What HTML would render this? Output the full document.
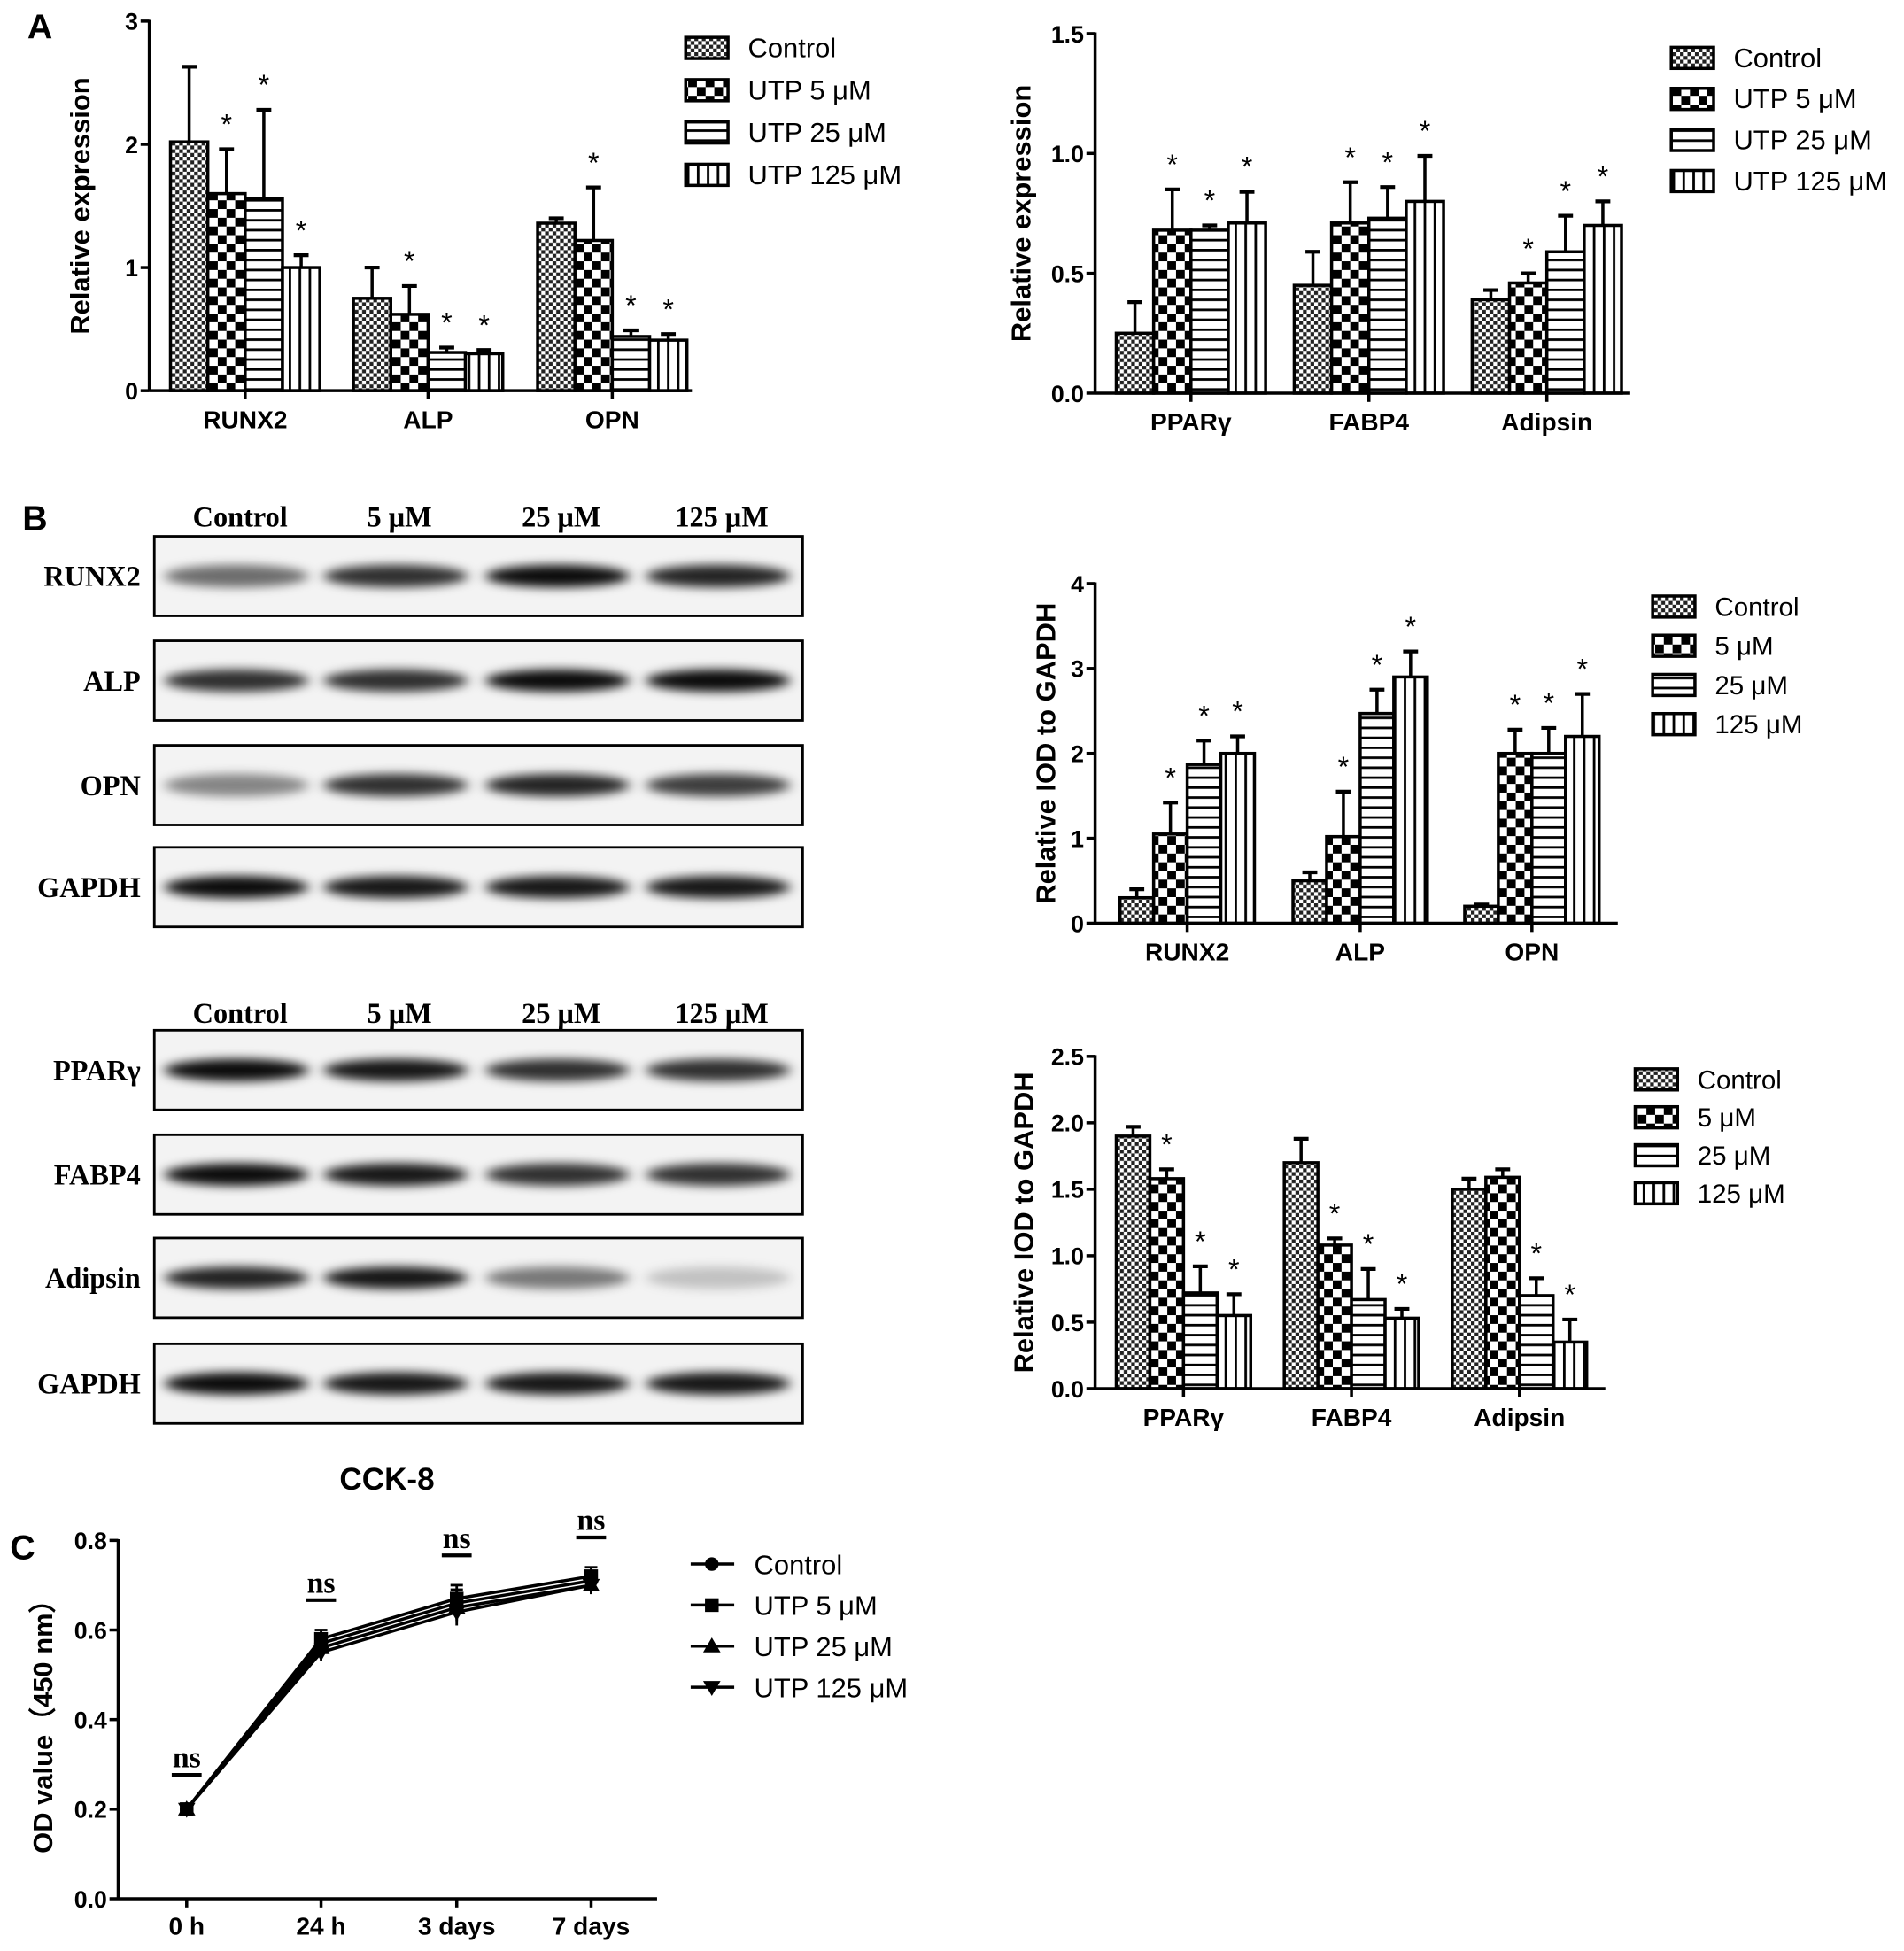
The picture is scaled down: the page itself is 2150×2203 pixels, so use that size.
<!DOCTYPE html>
<html><head><meta charset="utf-8"><style>
html,body{margin:0;padding:0;background:#fff}
svg{display:block}
text{font-family:"Liberation Sans",sans-serif}
.serif{font-family:"Liberation Serif",serif;font-weight:bold}
</style></head><body>
<svg id="fig" xmlns="http://www.w3.org/2000/svg" width="2150" height="2203" viewBox="0 0 1530 1568" preserveAspectRatio="none">
<defs>
<pattern id="p0" width="6" height="6" patternUnits="userSpaceOnUse"><rect width="6" height="6" fill="#fff"/><rect width="3" height="3" fill="#222"/><rect x="3" y="3" width="3" height="3" fill="#222"/></pattern>
<pattern id="p1" width="14" height="14" patternUnits="userSpaceOnUse"><rect width="14" height="14" fill="#fff"/><rect width="7" height="7" fill="#000"/><rect x="7" y="7" width="7" height="7" fill="#000"/></pattern>
<pattern id="p2" width="8" height="8" patternUnits="userSpaceOnUse"><rect width="8" height="8" fill="#fff"/><rect y="0" width="8" height="2" fill="#000"/></pattern>
<pattern id="p3" width="8" height="8" patternUnits="userSpaceOnUse"><rect width="8" height="8" fill="#fff"/><rect x="0" width="2" height="8" fill="#000"/></pattern>
<filter id="blur" x="-20%" y="-100%" width="140%" height="300%"><feGaussianBlur stdDeviation="5 4"/></filter>
</defs>
<text x="22" y="31" font-size="28" font-weight="bold">A</text>
<text x="18" y="426" font-size="28" font-weight="bold">B</text>
<text x="8" y="1253" font-size="28" font-weight="bold">C</text>
<g id="charts"></g>
</svg>
<script>
// ---- Chart A1 data
const a1Cats=["RUNX2","ALP","OPN"];
const a1Control=[2.02,0.75,1.36], a1U5=[1.6,0.62,1.22], a1U25=[1.56,0.31,0.44], a1U125=[1.0,0.3,0.41];
const a1ErrC=[2.63,1.0,1.4], a1Err5=[1.96,0.85,1.65], a1Err25=[2.28,0.35,0.49], a1Err125=[1.1,0.33,0.46];
const a1Star=[[0,1,1,1],[0,1,1,1],[0,1,1,1]];
const a1Ticks=["0","1","2","3"];
// ---- Chart A2 data
const a2Cats=["PPARγ","FABP4","Adipsin"];
const a2Control=[0.25,0.45,0.39], a2U5=[0.68,0.71,0.46], a2U25=[0.68,0.73,0.59], a2U125=[0.71,0.80,0.70];
const a2ErrC=[0.38,0.59,0.43], a2Err5=[0.85,0.88,0.5], a2Err25=[0.7,0.86,0.74], a2Err125=[0.84,0.99,0.8];
const a2Star=[[0,1,1,1],[0,1,1,1],[0,1,1,1]];
const a2Ticks=["0.0","0.5","1.0","1.5"];
// ---- Chart B1 data
const b1Cats=["RUNX2","ALP","OPN"];
const b1Control=[0.3,0.5,0.2], b1U5=[1.05,1.02,2.0], b1U25=[1.87,2.47,2.0], b1U125=[2.0,2.9,2.2];
const b1ErrC=[0.4,0.6,0.22], b1Err5=[1.42,1.55,2.28], b1Err25=[2.15,2.75,2.3], b1Err125=[2.2,3.2,2.7];
const b1Star=[[0,1,1,1],[0,1,1,1],[0,1,1,1]];
const b1Ticks=["0","1","2","3","4"];
// ---- Chart B2 data
const b2Cats=["PPARγ","FABP4","Adipsin"];
const b2Control=[1.9,1.7,1.5], b2U5=[1.58,1.08,1.59], b2U25=[0.72,0.67,0.7], b2U125=[0.55,0.53,0.35];
const b2ErrC=[1.97,1.88,1.58], b2Err5=[1.65,1.13,1.65], b2Err25=[0.92,0.9,0.83], b2Err125=[0.71,0.6,0.52];
const b2Star=[[0,1,1,1],[0,1,1,1],[0,0,1,1]];
const b2Ticks=["0.0","0.5","1.0","1.5","2.0","2.5"];
// ---- Chart C data
const cCats=["0 h","24 h","3 days","7 days"];
const cControl=[0.20,0.57,0.66,0.71], cU5=[0.20,0.58,0.67,0.72], cU25=[0.20,0.56,0.65,0.70], cU125=[0.20,0.55,0.64,0.70];
const cErr=[0.01,0.02,0.03,0.02];
const cTicks=["0.0","0.2","0.4","0.6","0.8"];
const cSeriesNames=["Control","UTP 5 μM","UTP 25 μM","UTP 125 μM"];

const NS="http://www.w3.org/2000/svg";
const root=document.getElementById('charts');
function mk(tag,at,parent){const e=document.createElementNS(NS,tag);for(const k in at)e.setAttribute(k,at[k]);(parent||root).appendChild(e);return e;}
function txt(s,at,parent){const e=mk('text',at,parent);e.textContent=s;return e;}

function barChart(o){
  const g=mk('g',{});
  
  
  const series=[o.c,o.u5,o.u25,o.u125], errs=[o.ec,o.e5,o.e25,o.e125];
  const maxV=(o.ticks.length-1)*o.step;
  const Y=v=>o.y0-v/maxV*(o.y0-o.yTop);
  o.cats.forEach((cat,gi)=>{
    const cx=o.centers[gi];
    for(let s=0;s<4;s++){
      const x=cx-2*o.bw+s*o.bw, v=series[s][gi], e=errs[s][gi];
      const r=mk('rect',{x:x,y:Y(v),width:o.bw,height:o.y0-Y(v),fill:'url(#p'+s+')',stroke:'#000','stroke-width':2.5},g);
      
      
      mk('line',{x1:x+o.bw/2,x2:x+o.bw/2,y1:Y(v),y2:Y(e),stroke:'#000','stroke-width':2.5},g);
      mk('line',{x1:x+o.bw/2-6,x2:x+o.bw/2+6,y1:Y(e),y2:Y(e),stroke:'#000','stroke-width':3},g);
      if(o.star[gi][s]){const st=txt('*',{x:x+o.bw/2,y:Y(e)-12,'font-size':23,'text-anchor':'middle'},g);
        }
    }
    mk('line',{x1:cx,x2:cx,y1:o.y0,y2:o.y0+7,stroke:'#000','stroke-width':2.5},g);
    const l=txt(cat,{x:cx,y:o.y0+30,'font-size':20,'font-weight':'bold','text-anchor':'middle'},g);
    
  });
  mk('line',{x1:o.x0,x2:o.x0,y1:o.yTop-1,y2:o.y0,stroke:'#000','stroke-width':2.5},g);
  mk('line',{x1:o.x0,x2:o.xEnd,y1:o.y0,y2:o.y0,stroke:'#000','stroke-width':2.5},g);
  o.ticks.forEach((t,i)=>{const y=Y(i*o.step);
    mk('line',{x1:o.x0-7,x2:o.x0,y1:y,y2:y,stroke:'#000','stroke-width':2.5},g);
    const l=txt(t,{x:o.x0-9,y:y+7,'font-size':19,'font-weight':'bold','text-anchor':'end'},g);
    });
  const yl=txt(o.ylabel,{x:0,y:0,'font-size':22,'font-weight':'bold','text-anchor':'middle',transform:`translate(${o.ylx},${(o.y0+o.yTop)/2}) rotate(-90)`},g);
  
  o.legNames.forEach((n,i)=>{
    const y=o.legY+i*o.legDy;
    const r=mk('rect',{x:o.legX,y:y-8,width:34,height:17,fill:'url(#p'+i+')',stroke:'#000','stroke-width':2.5},g);
    
    const t=txt(n,{x:o.legX+50,y:y+8,'font-size':o.legFs||22},g);
    
  });
}
const utpNames=["Control","UTP 5 μM","UTP 25 μM","UTP 125 μM"], shortNames=["Control","5 μM","25 μM","125 μM"];
barChart({name:'chart-a-osteogenic-mrna',cats:a1Cats,c:a1Control,u5:a1U5,u25:a1U25,u125:a1U125,ec:a1ErrC,e5:a1Err5,e25:a1Err25,e125:a1Err125,star:a1Star,
  ticks:a1Ticks,step:1,x0:120,xEnd:556,y0:314,yTop:17,centers:[197,344,492],bw:30,ylabel:'Relative expression',ylx:72,legNames:utpNames,legX:551,legY:38,legDy:34});
barChart({name:'chart-a-adipogenic-mrna',cats:a2Cats,c:a2Control,u5:a2U5,u25:a2U25,u125:a2U125,ec:a2ErrC,e5:a2Err5,e25:a2Err25,e125:a2Err125,star:a2Star,
  ticks:a2Ticks,step:0.5,x0:880,xEnd:1310,y0:316,yTop:27,centers:[957,1100,1243],bw:30,ylabel:'Relative expression',ylx:828,legNames:utpNames,legX:1343,legY:46,legDy:33});
barChart({name:'chart-b-osteogenic-protein',cats:b1Cats,c:b1Control,u5:b1U5,u25:b1U25,u125:b1U125,ec:b1ErrC,e5:b1Err5,e25:b1Err25,e125:b1Err125,star:b1Star,
  ticks:b1Ticks,step:1,x0:880,xEnd:1300,y0:742,yTop:469,centers:[954,1093,1231],bw:27,ylabel:'Relative IOD to GAPDH',ylx:848,legNames:shortNames,legX:1328,legY:487,legDy:31.5,legFs:21});
barChart({name:'chart-b-adipogenic-protein',cats:b2Cats,c:b2Control,u5:b2U5,u25:b2U25,u125:b2U125,ec:b2ErrC,e5:b2Err5,e25:b2Err25,e125:b2Err125,star:b2Star,
  ticks:b2Ticks,step:0.5,x0:880,xEnd:1290,y0:1116,yTop:849,centers:[951,1086,1221],bw:27,ylabel:'Relative IOD to GAPDH',ylx:830,legNames:shortNames,legX:1314,legY:867,legDy:30.5,legFs:21});

function blot(title,rows,top,hdrY,strengths){
  const g=mk('g',{});
  
  
  const lanes=[190,318,448,577];
  ["Control","5 μM","25 μM","125 μM"].forEach((s,i)=>{const t=txt(s,{x:lanes[i]+3,y:hdrY,'font-size':23,'text-anchor':'middle',class:'serif'},g);
    });
  rows.forEach((r,ri)=>{
    const y=top[ri];
    mk('rect',{x:124,y:y,width:521,height:64,fill:'#f3f3f3',stroke:'#000','stroke-width':2},g);
    lanes.forEach((lx,li)=>{const a=strengths[ri][li];
      const b=mk('ellipse',{cx:lx,cy:y+32,rx:58,ry:9,fill:'#000','fill-opacity':a,filter:'url(#blur)'},g);
      });
    const t=txt(r,{x:113,y:y+40,'font-size':23,'text-anchor':'end',class:'serif'},g);
    
  });
}
blot('western-blot-osteogenic',["RUNX2","ALP","OPN","GAPDH"],[431,515,599,681],423,
  [[0.55,0.8,0.95,0.85],[0.8,0.8,0.95,0.95],[0.45,0.8,0.85,0.75],[0.95,0.9,0.9,0.9]]);
blot('western-blot-adipogenic',["PPARγ","FABP4","Adipsin","GAPDH"],[828,912,995,1080],822,
  [[0.95,0.9,0.8,0.8],[0.95,0.9,0.8,0.8],[0.85,0.9,0.5,0.2],[0.95,0.9,0.9,0.9]]);

(function(){
  const g=mk('g',{});
  
  
  const x0=95,y0=1526,yTop=1238,maxV=0.8;
  const Y=v=>y0-v/maxV*(y0-yTop);
  const xs=[150,258,367,475];
  const t=txt('CCK-8',{x:311,y:1197,'font-size':25,'font-weight':'bold','text-anchor':'middle'},g);
  
  mk('line',{x1:x0,x2:x0,y1:yTop-1,y2:y0,stroke:'#000','stroke-width':2.5},g);
  mk('line',{x1:x0,x2:528,y1:y0,y2:y0,stroke:'#000','stroke-width':2.5},g);
  cTicks.forEach((tk,i)=>{const y=Y(i*0.2);
    mk('line',{x1:x0-7,x2:x0,y1:y,y2:y,stroke:'#000','stroke-width':2.5},g);
    const l=txt(tk,{x:x0-9,y:y+7,'font-size':19,'font-weight':'bold','text-anchor':'end'},g);
    });
  cCats.forEach((c,i)=>{mk('line',{x1:xs[i],x2:xs[i],y1:y0,y2:y0+7,stroke:'#000','stroke-width':2.5},g);
    const l=txt(c,{x:xs[i],y:y0+29,'font-size':20,'font-weight':'bold','text-anchor':'middle'},g);
    });
  const yl=txt('OD value（450 nm）',{x:0,y:0,'font-size':22,'font-weight':'bold','text-anchor':'middle',transform:`translate(42,${(y0+yTop)/2}) rotate(-90)`},g);
  yl.setAttribute('font-family','"Liberation Sans","Noto Sans CJK SC",sans-serif');
  
  const series=[cControl,cU5,cU25,cU125];
  function marker(k,x,y,par){
    if(k==0) return mk('circle',{cx:x,cy:y,r:5.5,fill:'#000'},par);
    if(k==1) return mk('rect',{x:x-5.5,y:y-5.5,width:11,height:11,fill:'#000'},par);
    if(k==2) return mk('polygon',{points:`${x},${y-7} ${x-7},${y+5} ${x+7},${y+5}`,fill:'#000'},par);
    return mk('polygon',{points:`${x},${y+7} ${x-7},${y-5} ${x+7},${y-5}`,fill:'#000'},par);
  }
  series.forEach((s,k)=>{
    const p=mk('polyline',{points:s.map((v,i)=>xs[i]+','+Y(v)).join(' '),fill:'none',stroke:'#000','stroke-width':2.5},g);
    
    s.forEach((v,i)=>{
      mk('line',{x1:xs[i],x2:xs[i],y1:Y(v-cErr[i]),y2:Y(v+cErr[i]),stroke:'#000','stroke-width':2},g);
      mk('line',{x1:xs[i]-5,x2:xs[i]+5,y1:Y(v+cErr[i]),y2:Y(v+cErr[i]),stroke:'#000','stroke-width':2},g);
      const m=marker(k,xs[i],Y(v),g);
      
    });
  });
  xs.forEach((x,i)=>{
    const top=Math.max(...series.map(s=>s[i]))+cErr[i];
    const ly=Y(top)-24;
    mk('line',{x1:x-12,x2:x+12,y1:ly,y2:ly,stroke:'#000','stroke-width':3},g);
    const n=txt('ns',{x:x,y:ly-6,'font-size':24,'text-anchor':'middle',class:'serif'},g);
    
  });
  cSeriesNames.forEach((n,k)=>{const y=1257+k*33;
    mk('line',{x1:555,x2:590,y1:y,y2:y,stroke:'#000','stroke-width':2.5},g);
    marker(k,572,y,g);
    const t=txt(n,{x:606,y:y+8,'font-size':22},g);
    });
})();
</script>
</body></html>
